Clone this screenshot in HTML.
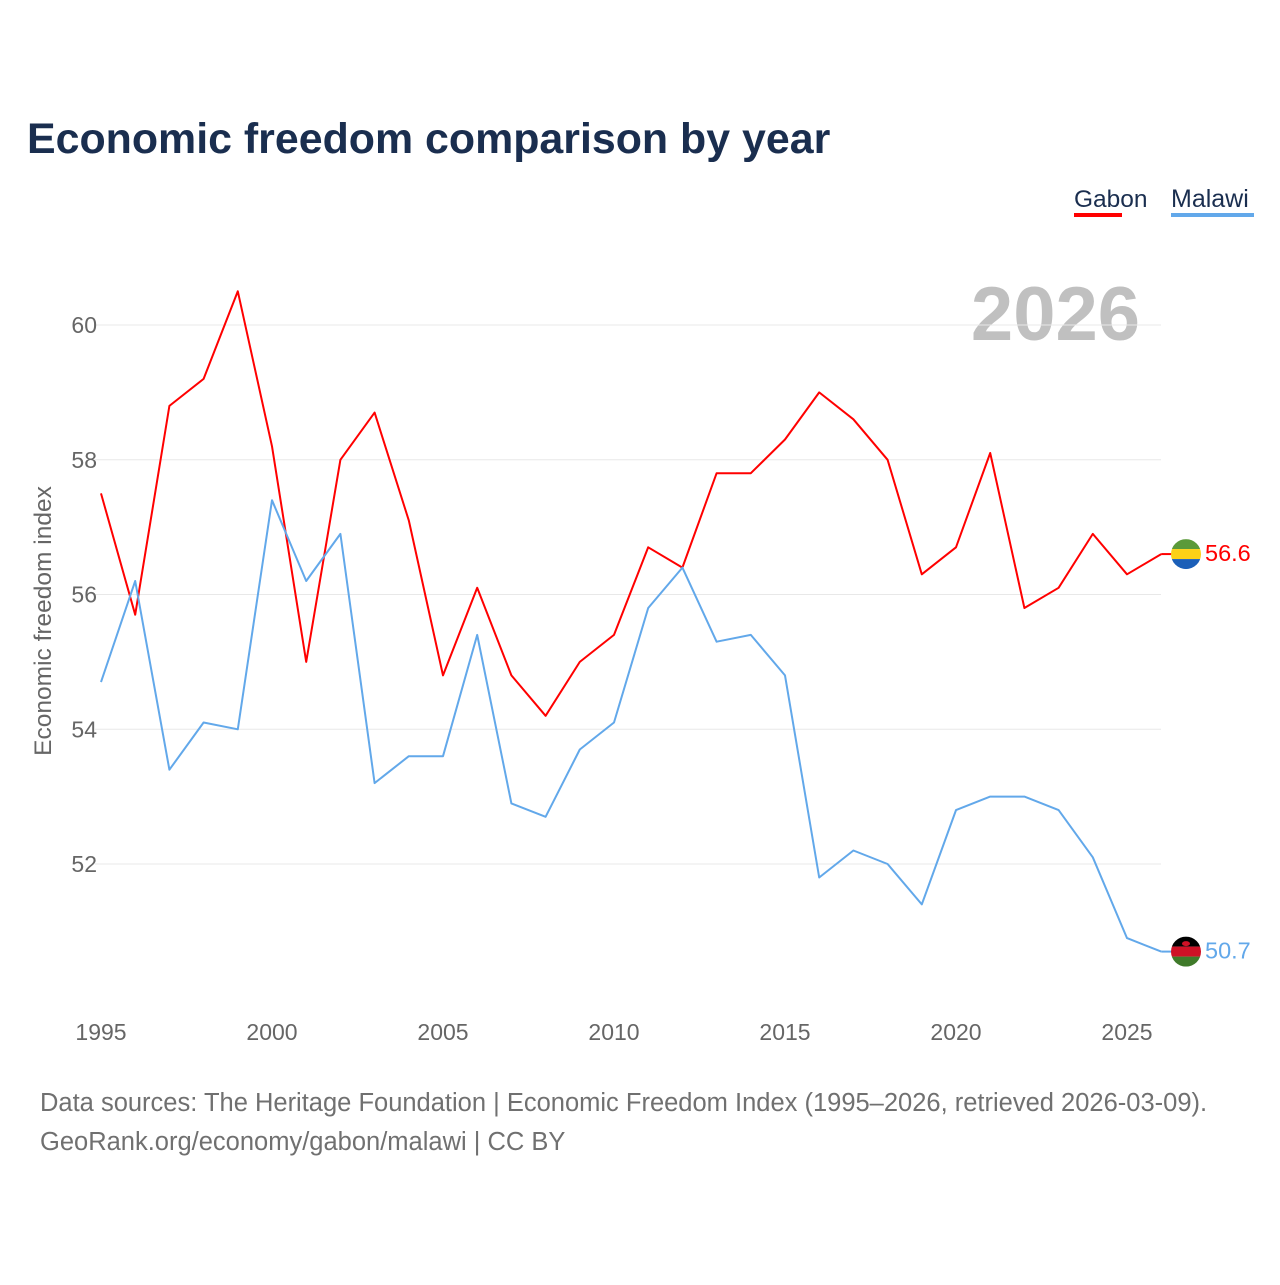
<!DOCTYPE html>
<html><head><meta charset="utf-8"><style>
body{margin:0;background:#fff;}
svg text{font-family:"Liberation Sans",sans-serif;}
</style></head><body>
<svg width="1280" height="1280" viewBox="0 0 1280 1280">
<text x="27" y="153" font-size="42.9" font-weight="bold" fill="#1a2e4f">Economic freedom comparison by year</text>
<g>
<text x="1074" y="207" font-size="24.5" fill="#1a2e4f">Gabon</text>
<rect x="1074" y="213" width="48" height="4" fill="#ff0000"/>
<text x="1171" y="207" font-size="25" fill="#1a2e4f">Malawi</text>
<rect x="1171" y="213" width="83" height="4" fill="#62a8ea"/>
</g>
<text x="1140" y="340" font-size="76" font-weight="bold" fill="#c0c0c0" text-anchor="end">2026</text>
<text transform="translate(51,621) rotate(-90)" font-size="24.5" fill="#666" text-anchor="middle">Economic freedom index</text>
<g id="grid"></g><g id="series"></g>
<text x="40" y="1111" font-size="25.5" fill="#707070">Data sources: The Heritage Foundation | Economic Freedom Index (1995–2026, retrieved 2026-03-09).</text>
<text x="40" y="1150" font-size="25.5" fill="#707070">GeoRank.org/economy/gabon/malawi | CC BY</text>
</svg>
<script>
const years=[1995,1996,1997,1998,1999,2000,2001,2002,2003,2004,2005,2006,2007,2008,2009,2010,2011,2012,2013,2014,2015,2016,2017,2018,2019,2020,2021,2022,2023,2024,2025,2026];
const gabon=[57.5,55.7,58.8,59.2,60.5,58.2,55.0,58.0,58.7,57.1,54.8,56.1,54.8,54.2,55.0,55.4,56.7,56.4,57.8,57.8,58.3,59.0,58.6,58.0,56.3,56.7,58.1,55.8,56.1,56.9,56.3,56.6];
const malawi=[54.7,56.2,53.4,54.1,54.0,57.4,56.2,56.9,53.2,53.6,53.6,55.4,52.9,52.7,53.7,54.1,55.8,56.4,55.3,55.4,54.8,51.8,52.2,52.0,51.4,52.8,53.0,53.0,52.8,52.1,50.9,50.7];
const yTicks=[52,54,56,58,60];
const xTicks=[1995,2000,2005,2010,2015,2020,2025];
const NS="http://www.w3.org/2000/svg";
const x=v=>101+(v-1995)*(1127-101)/30;
const y=v=>864-(v-52)*(864-325)/8;
const grid=document.getElementById('grid'),ser=document.getElementById('series');
function mk(tag,attrs,parent,txt){const e=document.createElementNS(NS,tag);for(const k in attrs)e.setAttribute(k,attrs[k]);if(txt!==undefined)e.textContent=txt;parent.appendChild(e);return e;}
yTicks.forEach(t=>{
 const l=mk('line',{x1:95,x2:1161,y1:y(t),y2:y(t),stroke:'#e8e8e8','stroke-width':1},grid);
 
 
 const tx=mk('text',{x:97,y:y(t)+8,'font-size':23,fill:'#666','text-anchor':'end'},grid,t);
 
 
});
xTicks.forEach(t=>{
 const tx=mk('text',{x:x(t),y:1040,'font-size':23,fill:'#666','text-anchor':'middle'},grid,t);
 
 
});
function line(data,color,name){
 const d=data.map((v,i)=>(i?'L':'M')+x(years[i]).toFixed(1)+','+y(v).toFixed(1)).join('');
 const p=mk('path',{d:d,fill:'none',stroke:color,'stroke-width':2,'stroke-linejoin':'round'},ser);
 
 
 const last=data[data.length-1],ly=y(last);
 mk('line',{x1:x(2026),x2:1172,y1:ly,y2:ly,stroke:color,'stroke-width':2},ser);
 const lab=mk('text',{x:1205,y:ly+7,'font-size':23.5,fill:color},ser,last.toFixed(1));
 
 
 return ly;
}
function flag(cy,cols,name,sun){
 const g=mk('g',{},ser);
 
 
 const id='c'+name;
 const cp=mk('clipPath',{id:id},g);mk('circle',{cx:1186,cy:cy,r:15},cp);
 cols.forEach((c,i)=>mk('rect',{x:1171,y:cy-15+i*10,width:30,height:10,fill:c,'clip-path':'url(#'+id+')'},g));
 if(sun)mk('ellipse',{cx:1186,cy:cy-8,rx:4,ry:2.5,fill:'#ce1126'},g);
}
const gy=line(gabon,'#ff0000','gabon');
const my=line(malawi,'#62a8ea','malawi');
flag(gy,['#5b9a3a','#fcd116','#1b5fb8'],'gabon',false);
flag(my,['#000','#ce1126','#3f7a2a'],'malawi',true);
</script>
</body></html>
